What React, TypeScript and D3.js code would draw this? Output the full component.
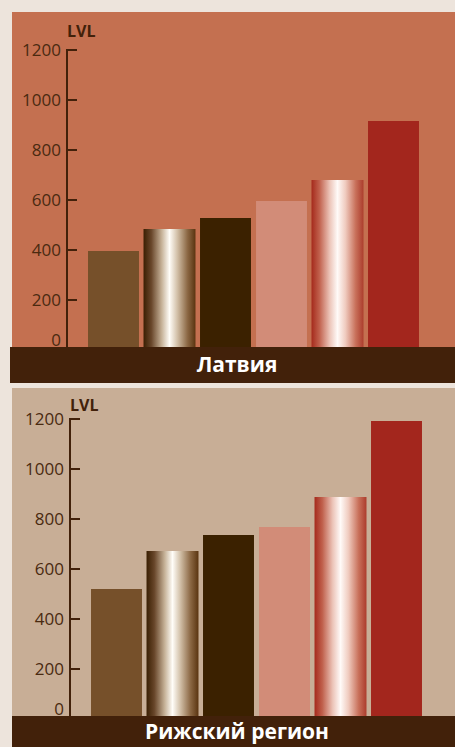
import React from "react";
import * as d3 from "d3";

const categories = ["c1", "c2", "c3", "c4", "c5", "c6"];
const latviaValues = [396, 484, 528, 596, 680, 916];
const rigaValues = [520, 672, 736, 768, 888, 1192];
const tickValues = [0, 200, 400, 600, 800, 1000, 1200];
const unitLabel = "LVL";
const titles = ["Латвия", "Рижский регион"];

const W = 455;
const H = 747;
const FONT = "'Open Sans', 'Noto Sans', sans-serif";
const DARK = "#42210a";
const TEXT = "#4a2a10";

const barFills = [
  "#76502a",
  "url(#gBrown)",
  "#3b2100",
  "#d28c78",
  "url(#gRed)",
  "#a3261d",
];

type PanelProps = {
  values: number[];
  title: string;
  bg: string;
  panelTop: number;
  barTop: number;
  barBottom: number;
  y0: number;
  y1200: number;
  axisX: number;
  bandStart: number;
  titleX0: number;
  unitBaseline: number;
};

function Panel(p: PanelProps) {
  const y = d3.scaleLinear().domain([0, 1200]).range([p.y0, p.y1200]);
  const x = d3
    .scaleBand<string>()
    .domain(categories)
    .range([p.bandStart, p.bandStart + 336])
    .paddingInner(0.09)
    .paddingOuter(0.045);
  return (
    <g>
      <rect x={12} y={p.panelTop} width={W - 12} height={p.barTop - p.panelTop} fill={p.bg} />
      {p.values.map((v, i) => {
        const grad = i === 1 || i === 4;
        return (
          <rect
            key={i}
            x={(x(categories[i]) as number) - (grad ? 0.5 : 0)}
            y={y(v)}
            width={x.bandwidth() + (grad ? 1 : 0)}
            height={p.y0 - y(v)}
            fill={barFills[i]}
          />
        );
      })}
      <line x1={p.axisX} x2={p.axisX} y1={y(1200) - 1} y2={p.barTop} stroke={DARK} strokeWidth={2} />
      {tickValues.map((t) => (
        <g key={t}>
          <line x1={p.axisX} x2={p.axisX + 10} y1={y(t)} y2={y(t)} stroke={DARK} strokeWidth={2} />
          <text
            x={p.axisX - 6}
            y={Math.min(y(t), p.barTop - 7)}
            dy="0.35em"
            textAnchor="end"
            fontFamily={FONT}
            fontSize={17}
            fill={TEXT}
          >
            {t}
          </text>
        </g>
      ))}
      <text x={p.axisX} y={p.unitBaseline} fontFamily={FONT} fontSize={16} fontWeight="bold" fill={DARK}>
        {unitLabel}
      </text>
      <rect x={p.titleX0} y={p.barTop} width={W - p.titleX0} height={p.barBottom - p.barTop} fill={DARK} />
      <text
        x={237}
        y={(p.barTop + Math.min(p.barBottom, p.barTop + 36)) / 2}
        dy="0.35em"
        textAnchor="middle"
        fontFamily={FONT}
        fontSize={21}
        fontWeight="bold"
        fill="#ffffff"
      >
        {p.title}
      </text>
    </g>
  );
}

export default function App() {
  return (
    <svg
      width={W}
      height={H}
      style={{ position: "absolute", left: 0, top: 0, display: "block" }}
    >
      <defs>
        <linearGradient id="gBrown" x1="0" x2="1" y1="0" y2="0">
          <stop offset="0%" stopColor="#3a1f02" />
          <stop offset="15%" stopColor="#68462a" />
          <stop offset="35%" stopColor="#c6b298" />
          <stop offset="50%" stopColor="#fffdf8" />
          <stop offset="65%" stopColor="#d2c0a8" />
          <stop offset="85%" stopColor="#8a6642" />
          <stop offset="100%" stopColor="#5a3410" />
        </linearGradient>
        <linearGradient id="gRed" x1="0" x2="1" y1="0" y2="0">
          <stop offset="0%" stopColor="#a52a1c" />
          <stop offset="15%" stopColor="#c0604c" />
          <stop offset="35%" stopColor="#ecc4b8" />
          <stop offset="50%" stopColor="#fffaf8" />
          <stop offset="65%" stopColor="#f0ccc0" />
          <stop offset="85%" stopColor="#c8705a" />
          <stop offset="100%" stopColor="#ac3c2c" />
        </linearGradient>
      </defs>
      <rect x={0} y={0} width={W} height={H} fill="#ede4dc" />
      <Panel
        values={latviaValues}
        title={titles[0]}
        bg="#c47050"
        panelTop={12}
        barTop={347}
        barBottom={383}
        y0={350}
        y1200={50}
        axisX={67}
        bandStart={85.5}
        titleX0={10}
        unitBaseline={37}
      />
      <Panel
        values={rigaValues}
        title={titles[1]}
        bg="#c8ae96"
        panelTop={388}
        barTop={716}
        barBottom={747}
        y0={719}
        y1200={419}
        axisX={70}
        bandStart={88.5}
        titleX0={12}
        unitBaseline={411}
      />
    </svg>
  );
}
